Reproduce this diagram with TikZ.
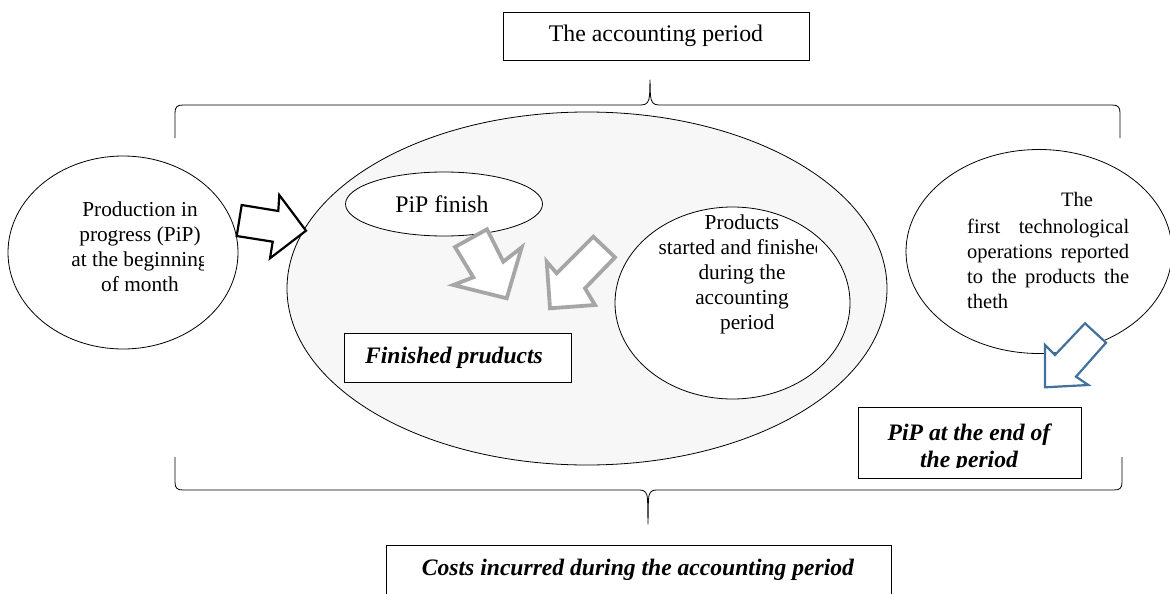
\documentclass[tikz,border=0pt]{standalone}
\usepackage{fontspec}
\setmainfont{Liberation Serif}
\usetikzlibrary{shapes.geometric}
\definecolor{ellfill}{HTML}{F7F7F7}
\definecolor{arrowgray}{HTML}{A6A6A6}
\definecolor{arrowblue}{HTML}{41719C}
\begin{document}
\begin{tikzpicture}[x=1pt,y=-1pt,
  txt/.style={font=\fontsize{21.3}{25}\selectfont, inner sep=0pt, align=center},
  bigtxt/.style={font=\fontsize{23.8}{25}\selectfont, inner sep=0pt, align=center},
  rtxt/.style={font=\fontsize{20.5}{25}\selectfont, inner sep=0pt, align=left},
  btxt/.style={font=\fontsize{23.6}{27}\selectfont\bfseries\itshape, inner sep=0pt, align=center},
  frame/.style={draw, line width=0.8pt, fill=white, rectangle, inner sep=0pt},
  oval/.style={draw, line width=0.8pt, fill=white, ellipse, inner sep=0pt},
  brace/.style={draw, line width=0.8pt, line join=round},
  blackarrow/.style={draw=black, line width=2.2pt, fill=white, line join=miter},
  grayarrow/.style={draw=arrowgray, line width=3.8pt, fill=white, line join=miter},
  bluearrow/.style={draw=arrowblue, line width=2.2pt, fill=white, line join=miter}]
\useasboundingbox (0,0) rectangle (1170,594);
\fill[white] (0,0) rectangle (1170,594);

% top label
\node[frame, minimum width=306pt, minimum height=48pt] (period) at (656,36) {};
\node[bigtxt] (periodtxt) at (656,36) {The accounting period};

% top brace
\coordinate (toptip) at (650,80);
\draw[brace] (175,138) -- (175,113) .. controls (175,107) and (177,105) .. (183,105)
  -- (641,105) .. controls (647,105) and (649,102) .. (649.6,95) -- (toptip)
  -- (650.4,95) .. controls (651,102) and (653,105) .. (659,105)
  -- (1112,105) .. controls (1118,105) and (1120,107) .. (1120,113) -- (1120,138);

% bottom brace
\coordinate (bottip) at (648,524);
\draw[brace] (175,457) -- (175,482) .. controls (175,488) and (177,490) .. (183,490)
  -- (640,490) .. controls (645,490) and (647.4,493) .. (647.6,500) -- (bottip)
  -- (648.4,500) .. controls (648.6,493) and (651,490) .. (656,490)
  -- (1114,490) .. controls (1120,490) and (1122,488) .. (1122,482) -- (1122,457);

% big ellipse
\node[oval, fill=ellfill, minimum width=600pt, minimum height=353pt] (big) at (587,288.5) {};

% left ellipse
\node[oval, minimum width=230pt, minimum height=193pt] (pipbeg) at (123,252.5) {};
\begin{scope}
  \clip (0,150) rectangle (203,350);
  \node[txt] (pipbegtxt) at (140,246.5) {Production in\\progress (PiP)\\at the beginning\\of month};
\end{scope}

% black block arrow
\path[blackarrow] (236.7,236) -- (241.7,205) -- (278.3,211) -- (279.3,195)
  -- (306,230.7) -- (270,258.3) -- (272.7,241.7) -- cycle;

% PiP finish
\node[oval, minimum width=197pt, minimum height=64pt] (pipfin) at (444,204) {};
\node[bigtxt] (pipfintxt) at (442,204) {PiP finish};

% products circle
\node[oval, minimum width=235pt, minimum height=192pt] (prod) at (732.5,303) {};
\begin{scope}
  \clip (600,200) rectangle (816,400);
  \node[txt] (prodtxt) at (742,274) {Products\\started and finished\\during the\\accounting\\\ \ period};
\end{scope}

% gray arrows
\path[grayarrow] (455,247) -- (487,229.3) -- (503.3,261.7) -- (521.7,247.3)
  -- (506.7,298.3) -- (453.3,285) -- (473.3,277.3) -- cycle;
\path[grayarrow] (593.3,236.7) -- (556.7,273.3) -- (546.7,261.7) -- (550,308.3)
  -- (595,305) -- (585,288.3) -- (615,257.3) -- cycle;

% finished products box
\node[frame, minimum width=227pt, minimum height=49pt] (finbox) at (457.5,357.5) {};
\node[btxt] (fintxt) at (454,358) {Finished pruducts};

% right ellipse
\node[oval, minimum width=266pt, minimum height=204pt] (first) at (1039,251.5) {};
\node[rtxt] (firstthe) at (1077,199) {The};
\node[rtxt, anchor=west] (firsttxt) at (967,263.5)
  {\makebox[162pt][s]{first technological}\\\makebox[162pt][s]{operations reported}\\\makebox[162pt][s]{to the products the}\\theth};

% blue arrow
\path[bluearrow] (1085,323.3) -- (1055,355) -- (1045,345) -- (1045,387.3)
  -- (1088.3,385) -- (1076,376.7) -- (1106,342.7) -- cycle;

% PiP at the end box
\node[frame, minimum width=223pt, minimum height=71pt] (pipend) at (969.5,442.5) {};
\begin{scope}
  \clip (858,407) rectangle (1081,467);
  \node[btxt] (pipendtxt) at (969,448) {PiP at the end of\\the period};
\end{scope}

% costs box
\node[frame, minimum width=505pt, minimum height=60pt] (costs) at (638.5,575) {};
\node[btxt] (coststxt) at (638,570) {Costs incurred during the accounting period};
\end{tikzpicture}
\end{document}
